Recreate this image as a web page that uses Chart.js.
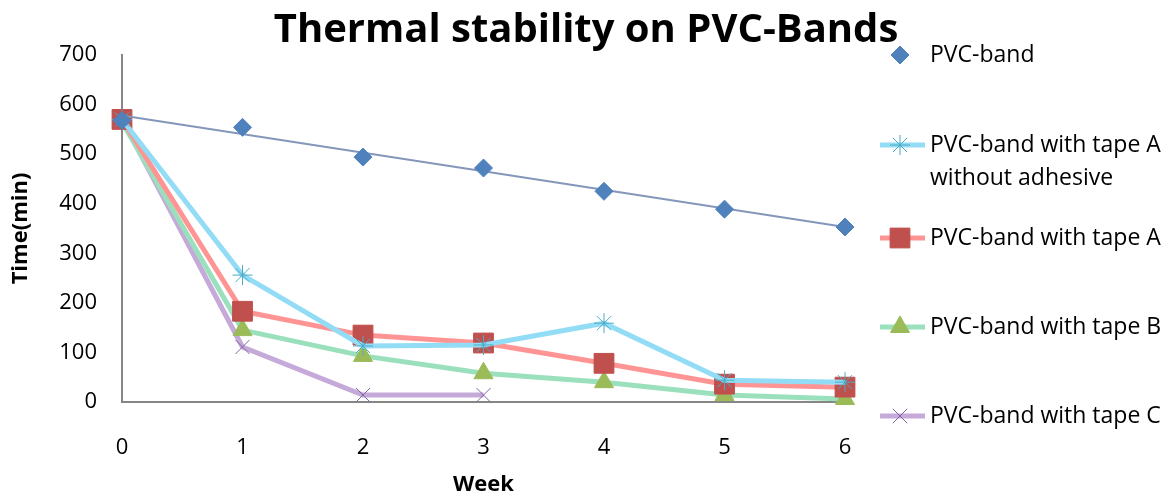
<!DOCTYPE html>
<html>
<head>
<meta charset="utf-8">
<script src="https://cdn.jsdelivr.net/npm/chart.js@4/dist/chart.umd.min.js"></script>
<style>
  html, body { margin: 0; padding: 0; background: #fff; }
  #wrap { width: 1176px; height: 502px; }
</style>
</head>
<body>
<div id="wrap"><canvas id="thermalChart" width="1176" height="502"></canvas></div>
<script>
// values
const weeks = [0, 1, 2, 3, 4, 5, 6];
const pvcBand = [568, 554, 494, 472, 425, 389, 353];
const tapeANoAdhesive = [570, 256, 113, 115, 159, 44, 40];
const tapeA = [570, 183, 135, 119, 78, 36, 30];
const tapeB = [565, 145, 93, 58, 40, 14, 6];
const tapeC = [570, 111, 14, 14, null, null, null];
const trendWeeks = [0, 6];
const trendValues = [578, 353];
const yTicks = [0, 100, 200, 300, 400, 500, 600, 700];
const chartTitle = "Thermal stability on PVC-Bands";

const toPoints = (xs, ys) => xs.map((x, i) => ({ x: x, y: ys[i] }));
const FONT = "'Open Sans', 'Noto Sans', sans-serif";

Chart.defaults.font.family = FONT;
Chart.defaults.color = "#000";

// title and legend drawn by hand so they sit where the original has them
const sideLegend = {
  id: "sideLegend",
  afterDraw(chart) {
    const ctx = chart.ctx;
    ctx.save();
    ctx.fillStyle = "#000";
    ctx.font = "bold 40px " + FONT;
    ctx.textAlign = "center";
    ctx.textBaseline = "middle";
    ctx.fillText(chartTitle, 586, 31);
    ctx.restore();

    const rows = [55, 145, 238, 327, 416];
    let row = 0;
    chart.data.datasets.forEach((ds) => {
      if (ds.hideInLegend) return;
      const y = rows[row++];
      ctx.save();
      if (ds.showLine !== false) {
        ctx.strokeStyle = ds.borderColor;
        ctx.lineWidth = ds.borderWidth;
        ctx.beginPath();
        ctx.moveTo(880, y);
        ctx.lineTo(925, y);
        ctx.stroke();
      }
      ctx.fillStyle = ds.pointBackgroundColor;
      ctx.strokeStyle = ds.pointBorderColor;
      ctx.lineWidth = ds.pointBorderWidth;
      Chart.helpers.drawPoint(ctx, {
        pointStyle: ds.pointStyle,
        radius: ds.pointRadius,
        rotation: 0,
        borderWidth: ds.pointBorderWidth,
      }, 900, y);
      ctx.fillStyle = "#000";
      ctx.font = "23px " + FONT;
      ctx.textBaseline = "middle";
      ctx.textAlign = "left";
      const lines = Array.isArray(ds.label) ? ds.label : [ds.label];
      lines.forEach((t, i) => ctx.fillText(t, 930, y + i * 33));
      ctx.restore();
    });
  },
};

new Chart(document.getElementById("thermalChart"), {
  type: "line",
  data: {
    datasets: [
      {
        label: "PVC-band",
        data: toPoints(weeks, pvcBand),
        showLine: false,
        borderColor: "#4F81BD",
        borderWidth: 0,
        pointStyle: "rectRot",
        pointRadius: 9,
        pointBackgroundColor: "#4F81BD",
        pointBorderColor: "#4F81BD",
        pointBorderWidth: 1,
      },
      {
        label: "trend",
        hideInLegend: true,
        data: toPoints(trendWeeks, trendValues),
        borderColor: "#8497BA",
        borderWidth: 2,
        pointRadius: 0,
      },
      {
        label: ["PVC-band with tape A", "without adhesive"],
        data: toPoints(weeks, tapeANoAdhesive),
        borderColor: "#93DCF6",
        borderWidth: 5,
        pointStyle: "star",
        pointRadius: 10,
        pointBackgroundColor: "#4BACC6",
        pointBorderColor: "#4BACC6",
        pointBorderWidth: 1,
      },
      {
        label: "PVC-band with tape A",
        data: toPoints(weeks, tapeA),
        borderColor: "#FF9494",
        borderWidth: 5,
        pointStyle: "rect",
        pointRadius: 14,
        pointBackgroundColor: "#C0504D",
        pointBorderColor: "#C0504D",
        pointBorderWidth: 1,
      },
      {
        label: "PVC-band with tape B",
        data: toPoints(weeks, tapeB),
        borderColor: "#9BE0BD",
        borderWidth: 5,
        pointStyle: "triangle",
        pointRadius: 11,
        pointBackgroundColor: "#9BBB59",
        pointBorderColor: "#9BBB59",
        pointBorderWidth: 1,
      },
      {
        label: "PVC-band with tape C",
        data: toPoints(weeks, tapeC),
        borderColor: "#C4A9D9",
        borderWidth: 5,
        pointStyle: "crossRot",
        pointRadius: 10,
        pointBackgroundColor: "#8064A2",
        pointBorderColor: "#8064A2",
        pointBorderWidth: 1,
      },
    ],
  },
  options: {
    responsive: false,
    animation: false,
    spanGaps: false,
    clip: false,
    layout: { padding: { top: 55, right: 331, left: 8, bottom: 0 } },
    plugins: {
      legend: { display: false },
      tooltip: { enabled: false },
      title: { display: false },
    },
    scales: {
      x: {
        type: "linear",
        min: 0,
        max: 6,
        ticks: { stepSize: 1, padding: 33, font: { size: 22 } },
        grid: { display: false, drawTicks: false },
        border: { color: "#868686", width: 2 },
        title: { display: true, text: "Week", font: { size: 22, weight: "bold" }, padding: { top: 0 } },
        afterFit: (scale) => { scale.height = 100; },
      },
      y: {
        min: 0,
        max: 700,
        afterBuildTicks: (scale) => { scale.ticks = yTicks.map((v) => ({ value: v })); },
        ticks: { padding: 25, font: { size: 22 } },
        grid: { display: false, drawTicks: false },
        border: { color: "#868686", width: 2 },
        title: { display: true, text: "Time(min)", font: { size: 22, weight: "bold" }, padding: 0 },
        afterFit: (scale) => { scale.width = 114; },
      },
    },
  },
  plugins: [sideLegend],
});
</script>
</body>
</html>
